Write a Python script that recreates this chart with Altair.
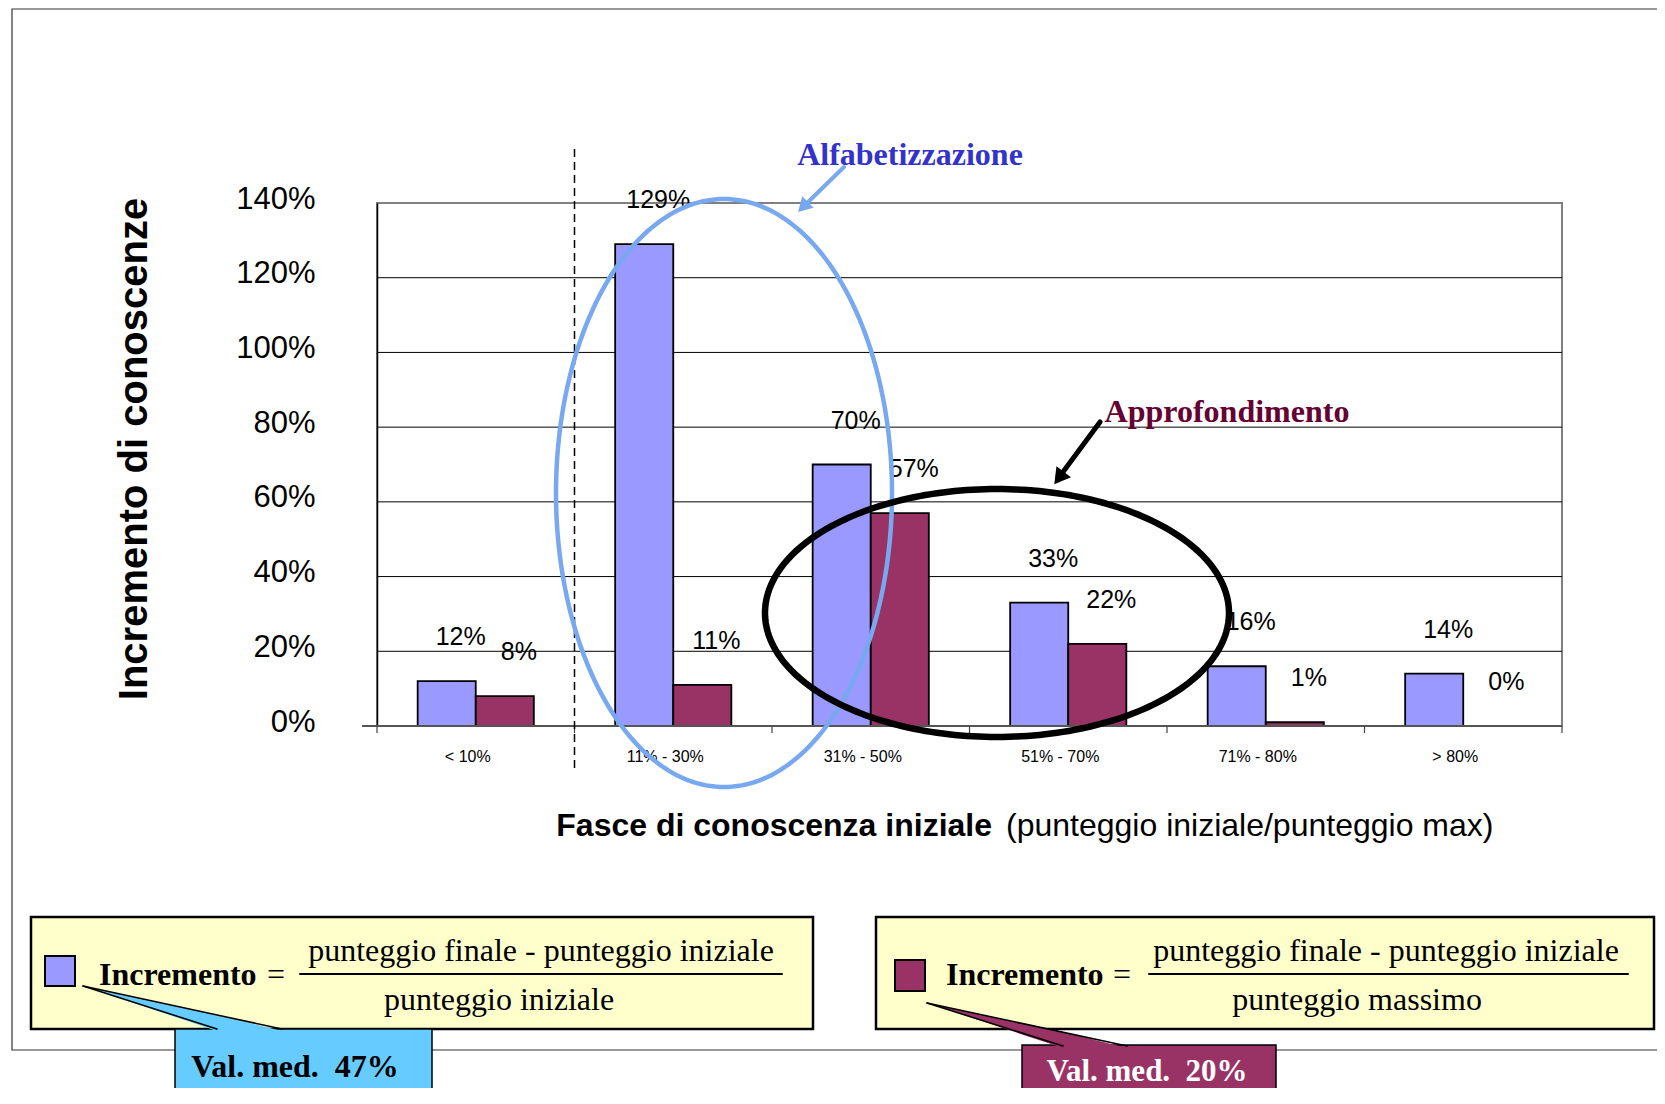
import altair as alt
import numpy as np
import pandas as pd

# ---------------- data ----------------
categories = ["< 10%", "11% - 30%", "31% - 50%", "51% - 70%", "71% - 80%", "> 80%"]
series = ["su punteggio iniziale", "su punteggio massimo"]
incr_iniziale = [0.12, 1.29, 0.70, 0.33, 0.16, 0.14]   # blue bars
incr_massimo = [0.08, 0.11, 0.57, 0.22, 0.01, 0.00]    # maroon bars
y_ticks = [0.0, 0.2, 0.4, 0.6, 0.8, 1.0, 1.2, 1.4]

BLUE = "#9999FF"
MAROON = "#993366"
ELL_BLUE = "#78A8F0"
SANS = "Liberation Sans"
SERIF = "Liberation Serif"

W, H = 1185, 523

bars_df = pd.DataFrame({
    "cat": categories * 2,
    "serie": [series[0]] * len(categories) + [series[1]] * len(categories),
    "val": incr_iniziale + incr_massimo,
})

# ---------------- scales / axes ----------------
x_scale = alt.Scale(domain=categories, paddingInner=0, paddingOuter=0)
x_axis = alt.Axis(title=None, ticks=False, domain=False, grid=False, labelAngle=0,
                  labelFont=SANS, labelFontSize=16, labelColor="black",
                  labelPadding=22, labelOffset=-8)
y_scale = alt.Scale(domain=[0, 1.4], nice=False, zero=True)
y_axis = alt.Axis(title=None, values=y_ticks, format=".0%", labelFont=SANS,
                  labelFontSize=31, labelColor="black", labelPadding=62,
                  labelOffset=-4, ticks=False, domain=True, domainColor="black",
                  domainWidth=1.5, grid=False)


def xcat(**kw):
    return alt.X("cat:N", scale=x_scale, axis=x_axis, **kw)


def yval(field="val"):
    return alt.Y(f"{field}:Q", scale=y_scale, axis=y_axis)


def PX(f="px"):
    return alt.X(f"{f}:Q", scale=None, axis=None)


def PY(f="py"):
    return alt.Y(f"{f}:Q", scale=None, axis=None)


xoff = alt.XOffset("serie:N", scale=alt.Scale(domain=series, paddingOuter=0.70, paddingInner=0))
color = alt.Color("serie:N", scale=alt.Scale(domain=series, range=[BLUE, MAROON]), legend=None)

one = pd.DataFrame({"k": [0]})


def text(s, x, y, size, font=SANS, weight="normal", col="black", align="center", angle=0):
    kw = dict(text=s, font=font, fontSize=size, fontWeight=weight, color=col,
              align=align, baseline="middle")
    if angle:
        kw["angle"] = angle
    return alt.Chart(one).mark_text(**kw).encode(x=alt.value(x), y=alt.value(y))


def box(x1, y1, x2, y2, fill, stroke="black", sw=2.0, fo=1.0):
    return alt.Chart(one).mark_rect(fill=fill, stroke=stroke, strokeWidth=sw, fillOpacity=fo).encode(
        x=alt.value(x1), x2=alt.value(x2), y=alt.value(y1), y2=alt.value(y2))


def seg(x1, y1, x2, y2, col, sw):
    return alt.Chart(one).mark_rule(color=col, strokeWidth=sw, strokeCap="round").encode(
        x=alt.value(x1), y=alt.value(y1), x2=alt.value(x2), y2=alt.value(y2))


def head(x, y, angle, col, size):
    return alt.Chart(one).mark_point(shape="triangle-up", filled=True, fill=col, color=col,
                                     size=size, angle=angle, opacity=1, strokeWidth=0).encode(
        x=alt.value(x), y=alt.value(y))


t = np.linspace(0, 2 * np.pi, 241)


def ellipse(cx, cy, rx, ry, col, sw):
    df = pd.DataFrame({"px": cx + rx * np.cos(t), "py": cy + ry * np.sin(t), "o": np.arange(len(t))})
    return alt.Chart(df).mark_line(color=col, strokeWidth=sw).encode(
        x=PX(), y=PY(), order=alt.Order("o:Q"))


def pointer(pts_top, pts_bottom, xs, fill):
    df = pd.DataFrame({"px": xs, "py": pts_top, "py2": pts_bottom})
    return alt.Chart(df).mark_area(color=fill, opacity=1).encode(
        x=PX(), y=PY(), y2=alt.Y2("py2:Q"))


layers = []

# outer frame
layers.append(box(-365, -194, 1300, 847, "white", stroke="#333333", sw=1.2, fo=0))

# grid lines
grid_df = pd.DataFrame({"val": y_ticks[1:-1]})
layers.append(alt.Chart(grid_df).mark_rule(color="black", strokeWidth=1).encode(
    y=yval(), x=alt.value(0), x2=alt.value(W)))

# bars
layers.append(alt.Chart(bars_df).mark_bar(stroke="black", strokeWidth=1.8).encode(
    x=xcat(), xOffset=xoff, y=yval(), color=color))

# zero line
zero_df = pd.DataFrame({"val": y_ticks[:1]})
layers.append(alt.Chart(zero_df).mark_rule(color="#555555", strokeWidth=2).encode(
    y=yval(), x=alt.value(-15), x2=alt.value(W)))

# x tick marks at category boundaries
cat_df = pd.DataFrame({"cat": categories})
layers.append(alt.Chart(cat_df).mark_rule(color="#444444", strokeWidth=1.2).encode(
    x=xcat(bandPosition=0), y=alt.value(H), y2=alt.value(H + 7)))
layers.append(alt.Chart(cat_df).transform_filter(
    alt.datum.cat == categories[-1]).mark_rule(color="#444444", strokeWidth=1.2).encode(
    x=xcat(bandPosition=1), y=alt.value(H), y2=alt.value(H + 7)))

# value labels
layers.append(alt.Chart(bars_df).mark_text(font=SANS, fontSize=25, color="black",
                                           baseline="middle", dx=14, dy=-44).encode(
    x=xcat(), xOffset=xoff, y=yval(), text=alt.Text("val:Q", format=".0%")))

# dashed separator between first and second band
sep_df = pd.DataFrame({"cat": categories[1:2]})
layers.append(alt.Chart(sep_df).mark_rule(color="black", strokeWidth=1.5, strokeDash=[8, 5]).encode(
    x=xcat(bandPosition=0), y=alt.value(-54), y2=alt.value(569)))

# ellipses
layers.append(ellipse(347, 290, 168, 294, ELL_BLUE, 4.5))
layers.append(ellipse(620, 410, 232, 124, "black", 6.5))

# arrows + annotation labels
layers.append(seg(467, -36, 428, 2, ELL_BLUE, 4))
layers.append(head(426, 4, 225, ELL_BLUE, 260))
layers.append(text("Alfabetizzazione", 533, -48, 32, font=SERIF, weight="bold", col="#3333CC"))

layers.append(seg(723, 219, 683, 273, "black", 5))
layers.append(head(682, 275, 217, "black", 330))
layers.append(text("Approfondimento", 850, 209, 32, font=SERIF, weight="bold", col="#660033"))

# axis titles
layers.append(text("Incremento di conoscenze", -242, 246, 40, weight="bold", angle=270))
layers.append(text("Fasce di conoscenza iniziale", 615, 623, 32, weight="bold", align="right"))
layers.append(text("(punteggio iniziale/punteggio max)", 629, 623, 32, align="left"))

# formula boxes
layers.append(box(-346, 714, 436, 826, "#FFFFCC", sw=2.5))
layers.append(box(499, 714, 1277, 826, "#FFFFCC", sw=2.5))
layers.append(box(-332, 753, -302, 783, BLUE, sw=2))
layers.append(box(518, 757, 548, 788, MAROON, sw=2))

layers.append(text("Incremento", -278, 772, 32, font=SERIF, weight="bold", align="left"))
layers.append(text("=", -101, 772, 32, font=SERIF))
layers.append(text("punteggio finale - punteggio iniziale", 164, 748, 32, font=SERIF))
layers.append(seg(-77, 771, 405, 771, "black", 2))
layers.append(text("punteggio iniziale", 122, 797, 32, font=SERIF))

layers.append(text("Incremento", 569, 772, 32, font=SERIF, weight="bold", align="left"))
layers.append(text("=", 745, 772, 32, font=SERIF))
layers.append(text("punteggio finale - punteggio iniziale", 1009, 748, 32, font=SERIF))
layers.append(seg(772, 771, 1251, 771, "black", 2))
layers.append(text("punteggio massimo", 980, 797, 32, font=SERIF))

# callouts
layers.append(box(-202, 826, 55, 891, "#66CCFF", sw=1.5))
layers.append(pointer([783, 812, 828], [783, 828, 828], [-294, -160, -95], "#66CCFF"))
layers.append(seg(-294, 783, -160, 826, "black", 1.5))
layers.append(seg(-294, 783, -95, 826, "black", 1.5))
layers.append(text("Val. med.\u00a0\u00a047%", -82, 864, 32, font=SERIF, weight="bold"))

layers.append(box(645, 842, 899, 900, MAROON, sw=1.5))
layers.append(pointer([800, 829, 845], [800, 845, 845], [550, 686, 750], MAROON))
layers.append(seg(550, 800, 686, 843, "black", 1.5))
layers.append(seg(550, 800, 750, 843, "black", 1.5))
layers.append(text("Val. med.\u00a0\u00a020%", 770, 869, 31, font=SERIF, weight="bold", col="white"))

chart = alt.layer(*layers).properties(
    width=W, height=H,
    autosize=alt.AutoSizeParams(type="none"),
    padding={"left": 369, "top": 195, "right": 95, "bottom": 362},
    background="white",
).configure_view(stroke="#808080", strokeWidth=2)

chart.save("out.html", embed_options={"renderer": "svg", "actions": False})
